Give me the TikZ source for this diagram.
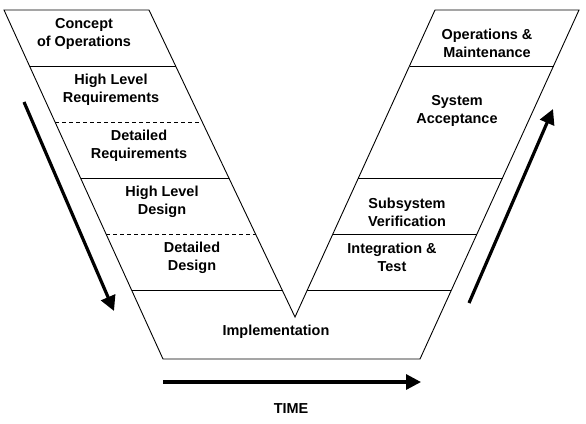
\documentclass[tikz,border=0pt]{standalone}
\usepackage{fontspec}
\setmainfont{Liberation Sans}
\usetikzlibrary{arrows.meta}
\begin{document}
\begin{tikzpicture}[x=1bp,y=-1bp,
  thinline/.style={line width=0.9bp, black},
  dashline/.style={line width=0.9bp, black, dash pattern=on 4bp off 3bp},
  lbl/.style={font=\fontsize{14.5}{18}\selectfont\bfseries, align=center, inner sep=0pt},
  bigarrow/.style={line width=3.2bp, -{Triangle[length=15bp,width=15bp]}}]
\useasboundingbox (0,0) rectangle (586,423);
\fill[white] (0,0) rectangle (586,423);
% outline of the V
\draw[thinline, line join=miter] (4,10) -- (149,10) -- (295,317) -- (435,10) -- (579,10) -- (420,359) -- (163,359) -- cycle;
% left arm separators
\draw[thinline] (29.5,66) -- (175.6,66);
\draw[dashline] (55,122) -- (202.3,122);
\draw[thinline] (80.5,178) -- (228.9,178);
\draw[dashline] (106.1,234) -- (255.5,234);
\draw[thinline] (131.6,290) -- (282.2,290);
% right arm separators
\draw[thinline] (409.5,66) -- (553.5,66);
\draw[thinline] (358.4,178) -- (502.5,178);
\draw[thinline] (332.9,234) -- (477,234);
\draw[thinline] (307.3,290) -- (451.4,290);
% labels
\node[lbl] (conops) at (84,33.5) {Concept\\of Operations};
\node[lbl] (hlr) at (111,89.5) {High Level\\Requirements};
\node[lbl] (dr) at (139,145.5) {Detailed\\Requirements};
\node[lbl] (hld) at (162,201.5) {High Level\\Design};
\node[lbl] (dd) at (192,257.5) {Detailed\\Design};
\node[lbl] (impl) at (276,331.5) {Implementation};
\node[lbl] (om) at (487,43.5) {Operations \&\\Maintenance};
\node[lbl] (sa) at (457,110.5) {System\\Acceptance};
\node[lbl] (sv) at (407,212.5) {Subsystem\\Verification};
\node[lbl] (it) at (392,257.5) {Integration \&\\Test};
\node[lbl] (time) at (291,409) {TIME};
% arrows
\coordinate (dstart) at (24,102);
\coordinate (dend) at (114,311);
\coordinate (ustart) at (469,303);
\coordinate (uend) at (553,109);
\coordinate (tstart) at (163,382);
\coordinate (tend) at (421,382);
\draw[bigarrow] (dstart) -- (dend);
\draw[bigarrow] (ustart) -- (uend);
\draw[bigarrow] (tstart) -- (tend);
\end{tikzpicture}
\end{document}
